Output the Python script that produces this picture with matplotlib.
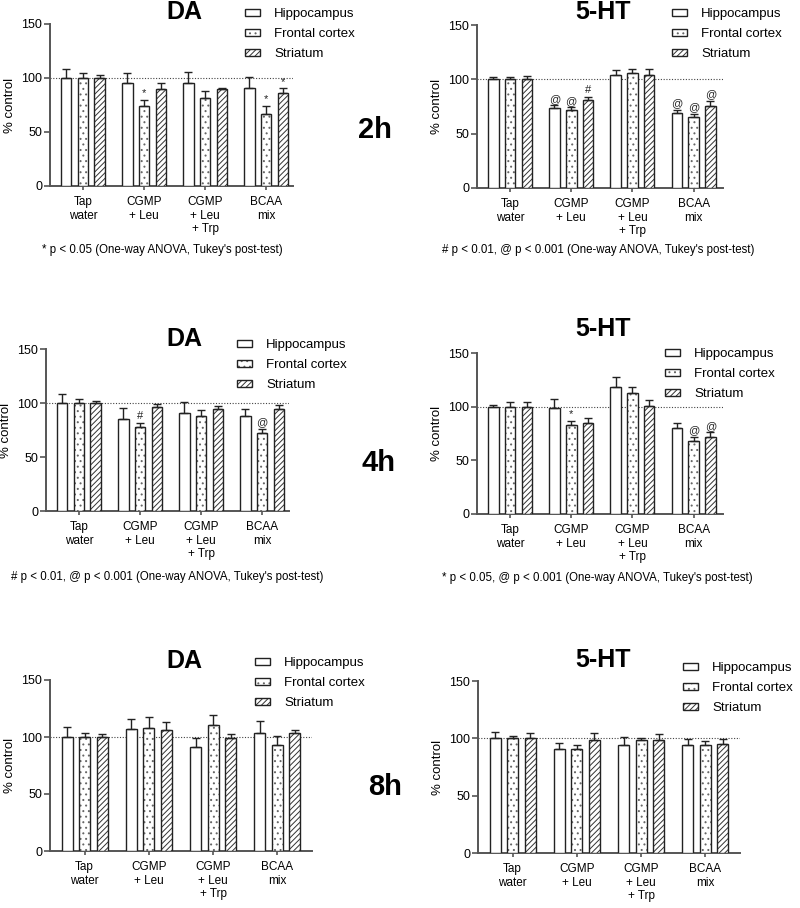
"""
Monoamine levels (% control) in three brain regions, 2h / 4h / 8h,
DA on the left and 5-HT on the right.
"""
import matplotlib
matplotlib.use('Agg')
import matplotlib.pyplot as plt
from matplotlib.patches import Patch
from matplotlib.legend_handler import HandlerTuple
import numpy as np

plt.rcParams['font.family'] = ['Liberation Sans', 'DejaVu Sans']
plt.rcParams['hatch.linewidth'] = 0.7

groups = ['Tap\nwater', 'CGMP\n+ Leu', 'CGMP\n+ Leu\n+ Trp', 'BCAA\nmix']
regions = ['Hippocampus', 'Frontal cortex', 'Striatum']

# means and SEM per region: [Hippocampus, Frontal cortex, Striatum]
da_2h_mean = [[100, 95.7, 95.0, 91.0], [100, 74.2, 81.5, 66.5], [100, 90.2, 89.8, 85.8]]
da_2h_sem = [[8.6, 9.3, 10.5, 9.6], [5.0, 5.8, 6.5, 7.7], [3.0, 5.2, 1.2, 4.7]]
da_2h_sig = [['', '', '', ''], ['', '*', '', '*'], ['', '', '', '*']]

ht_2h_mean = [[100, 73.4, 103.7, 69.0], [100, 71.6, 105.5, 65.7], [100, 80.6, 104.0, 75.8]]
ht_2h_sem = [[2.4, 2.6, 5.3, 3.0], [2.5, 2.7, 4.0, 2.3], [3.0, 3.2, 5.5, 4.2]]
ht_2h_sig = [['', '@', '', '@'], ['', '@', '', '@'], ['', '#', '', '@']]

da_4h_mean = [[100, 85.0, 90.7, 88.0], [100, 77.4, 87.6, 72.0], [100, 96.6, 94.7, 94.4]]
da_4h_sem = [[8.7, 10.0, 9.9, 6.4], [4.0, 4.0, 6.2, 3.9], [2.0, 2.8, 2.8, 3.4]]
da_4h_sig = [['', '', '', ''], ['', '#', '', '@'], ['', '', '', '']]

ht_4h_mean = [[100, 98.4, 118.0, 79.8], [100, 82.6, 113.0, 68.0], [100, 84.4, 101.0, 71.3]]
ht_4h_sem = [[1.6, 8.4, 9.4, 4.6], [4.0, 4.3, 5.0, 4.0], [4.0, 5.0, 5.2, 4.7]]
ht_4h_sig = [['', '', '', ''], ['', '*', '', '@'], ['', '', '', '@']]

da_8h_mean = [[100, 106.7, 91.2, 103.8], [100, 107.6, 110.8, 93.3], [100, 105.8, 99.0, 103.8]]
da_8h_sem = [[8.8, 9.3, 8.2, 9.9], [3.5, 9.9, 8.5, 7.7], [3.0, 7.2, 4.0, 2.2]]

ht_8h_mean = [[100, 90.7, 94.5, 94.0], [100, 90.4, 98.3, 94.2], [100, 98.6, 98.3, 95.4]]
ht_8h_sem = [[5.2, 5.5, 6.5, 5.0], [2.3, 3.6, 2.0, 3.5], [4.6, 6.4, 5.2, 4.3]]

W, H = 800, 908
fig = plt.figure(figsize=(W / 100, H / 100), dpi=100)
fig.patch.set_facecolor('white')

hatches = ['', '...', '//////']
hatch_colors = ['#222222', '#666666', '#333333']
offsets = [-0.274, 0.0, 0.274]
ink = '#222222'
spine = '#555555'


def fx(x):
    return x / W


def fy(y):
    return 1 - y / H


def panel(box, mean, sem, sig, xmax):
    l, t, r, b = box
    ax = fig.add_axes([fx(l), fy(b), fx(r - l), (b - t) / H])
    x = np.arange(len(groups))
    for i in range(3):
        # hatch layer (own colour), then the outline on top
        ax.bar(x + offsets[i], mean[i], width=0.172, facecolor='white',
               edgecolor=hatch_colors[i], hatch=hatches[i], linewidth=0, zorder=3)
        ax.bar(x + offsets[i], mean[i], width=0.172, fill=False,
               edgecolor=ink, linewidth=1.0, zorder=3.5)
        ax.errorbar(x + offsets[i], mean[i],
                    yerr=[np.zeros(len(groups)), sem[i]], fmt='none',
                    ecolor=ink, elinewidth=1.0, capsize=3.2, capthick=1.0,
                    zorder=4)
        if sig is not None:
            for j, s in enumerate(sig[i]):
                if s:
                    ax.text(x[j] + offsets[i], mean[i][j] + sem[i][j] + 1.5, s,
                            ha='center', va='bottom', fontsize=8, color=ink)
    ax.set_xlim(-0.54, xmax)
    ax.set_ylim(0, 150)
    ax.axhline(100, color='#444444', lw=0.8, ls=(0, (1, 1.5)), zorder=2)
    ax.set_yticks([0, 50, 100, 150])
    ax.set_xticks(x)
    ax.set_xticklabels(groups, fontsize=8.5, linespacing=1.2)
    ax.tick_params(axis='y', labelsize=9, length=4, width=1.2, color=spine, pad=1.5)
    ax.tick_params(axis='x', length=3, width=1.2, color=spine, pad=4)
    for s in ['top', 'right']:
        ax.spines[s].set_visible(False)
    for s in ['left', 'bottom']:
        ax.spines[s].set_color(spine)
        ax.spines[s].set_linewidth(1.4)
    ax.set_ylabel('% control', fontsize=9.5, labelpad=4)
    return ax


def legend(ax, x, y):
    handles = []
    for i in range(3):
        fill = Patch(facecolor='white', edgecolor=hatch_colors[i],
                     hatch=hatches[i], linewidth=0)
        edge = Patch(fill=False, edgecolor=ink, linewidth=1.0)
        handles.append((fill, edge))
    ax.legend(handles, regions, handler_map={tuple: HandlerTuple(ndivide=1)},
              loc='upper left', bbox_to_anchor=(fx(x), fy(y)),
              bbox_transform=fig.transFigure, frameon=False, fontsize=9.5,
              handlelength=1.1, handleheight=0.45, handletextpad=1.1,
              labelspacing=0.6, borderpad=0, borderaxespad=0)


note_a = "* p < 0.05 (One-way ANOVA, Tukey's post-test)"
note_b = "# p < 0.01, @ p < 0.001 (One-way ANOVA, Tukey's post-test)"
note_c = "* p < 0.05, @ p < 0.001 (One-way ANOVA, Tukey's post-test)"
nfs = 8.3
tfs = 18
hfs = 21

# 2h
ax = panel((50, 24, 293, 186), da_2h_mean, da_2h_sem, da_2h_sig, 3.44)
legend(ax, 245, 8)
fig.text(fx(184), fy(12), 'DA', ha='center', va='center', fontsize=tfs, fontweight='bold')
ax = panel((477, 25, 723, 188), ht_2h_mean, ht_2h_sem, ht_2h_sig, 3.48)
legend(ax, 672, 8)
fig.text(fx(603), fy(12), '5-HT', ha='center', va='center', fontsize=tfs, fontweight='bold')
fig.text(fx(375), fy(130), '2h', ha='center', va='center', fontsize=hfs, fontweight='bold')
fig.text(fx(162), fy(250), note_a, ha='center', va='center', fontsize=nfs)
fig.text(fx(598), fy(250), note_b, ha='center', va='center', fontsize=nfs)

# 4h
ax = panel((46, 349, 289, 511), da_4h_mean, da_4h_sem, da_4h_sig, 3.44)
legend(ax, 237, 339)
fig.text(fx(184), fy(339), 'DA', ha='center', va='center', fontsize=tfs, fontweight='bold')
ax = panel((477, 353, 723, 514), ht_4h_mean, ht_4h_sem, ht_4h_sig, 3.48)
legend(ax, 665, 348)
fig.text(fx(603), fy(329), '5-HT', ha='center', va='center', fontsize=tfs, fontweight='bold')
fig.text(fx(378), fy(463), '4h', ha='center', va='center', fontsize=hfs, fontweight='bold')
fig.text(fx(167), fy(577), note_b, ha='center', va='center', fontsize=nfs)
fig.text(fx(597), fy(578), note_c, ha='center', va='center', fontsize=nfs)

# 8h
ax = panel((50, 680, 312, 851), da_8h_mean, da_8h_sem, None, 3.54)
legend(ax, 255, 657)
fig.text(fx(184), fy(661), 'DA', ha='center', va='center', fontsize=tfs, fontweight='bold')
ax = panel((478, 681, 740, 853), ht_8h_mean, ht_8h_sem, None, 3.54)
legend(ax, 683, 662)
fig.text(fx(603), fy(660), '5-HT', ha='center', va='center', fontsize=tfs, fontweight='bold')
fig.text(fx(385), fy(787), '8h', ha='center', va='center', fontsize=hfs, fontweight='bold')

plt.savefig('out.png', dpi=100, facecolor='white')
plt.close(fig)
